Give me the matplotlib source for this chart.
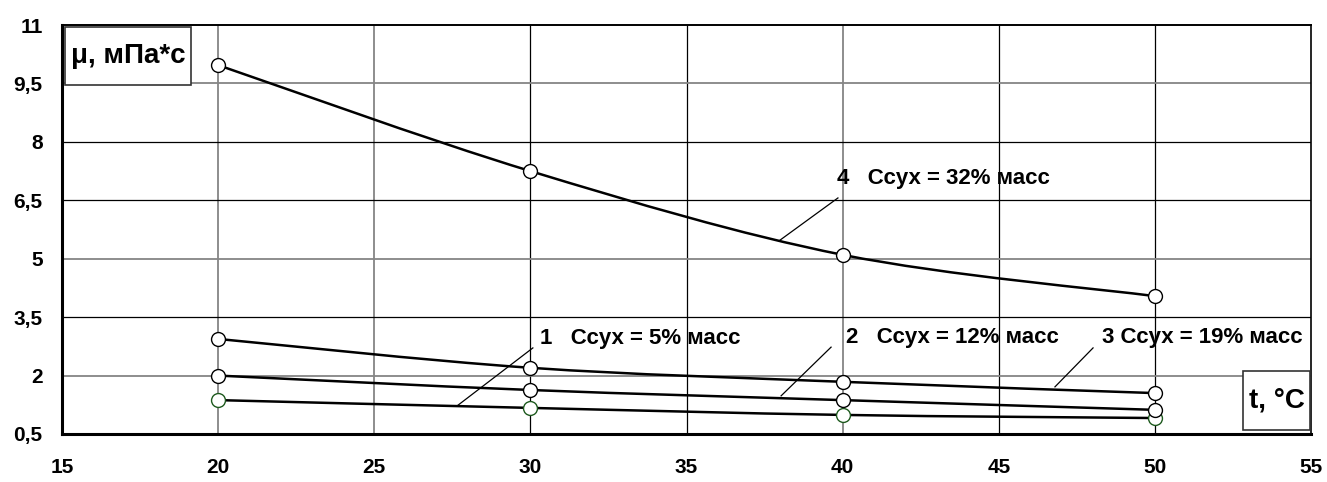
import matplotlib.pyplot as plt
from matplotlib.path import Path
from matplotlib.patches import PathPatch, Rectangle
from matplotlib.ticker import FixedLocator, FuncFormatter

# data
t = [20, 30, 40, 50]
mu_5 = [1.37, 1.17, 0.99, 0.91]
mu_12 = [2.00, 1.63, 1.37, 1.12]
mu_19 = [2.94, 2.20, 1.84, 1.55]
mu_32 = [9.97, 7.25, 5.10, 4.04]

labels = ["1   Ссух = 5% масс", "2   Ссух = 12% масс", "3 Ссух = 19% масс", "4   Ссух = 32% масс"]
label_xy = [(30.31, 2.94), (40.11, 2.97), (48.31, 2.97), (39.82, 7.07)]
leaders = [((30.08, 2.71), (27.65, 1.22)),
           ((39.63, 2.73), (38.03, 1.48)),
           ((48.02, 2.71), (46.80, 1.71)),
           ((39.85, 6.56), (38.0, 5.48))]

xticks = [15, 20, 25, 30, 35, 40, 45, 50, 55]
yticks = [0.5, 2, 3.5, 5, 6.5, 8, 9.5, 11]
gray_x = [20, 25, 40]
gray_y = [2, 5, 9.5]

FONT = ["Liberation Sans", "DejaVu Sans"]


def smooth_path(xs, ys):
    # Excel-like smoothed line: Catmull-Rom segments as cubic Bezier curves
    pts = list(zip(xs, ys))
    verts = [pts[0]]
    codes = [Path.MOVETO]
    n = len(pts)
    for i in range(n - 1):
        p0 = pts[i - 1] if i > 0 else pts[i]
        p1 = pts[i]
        p2 = pts[i + 1]
        p3 = pts[i + 2] if i + 2 < n else pts[i + 1]
        c1 = (p1[0] + (p2[0] - p0[0]) / 6, p1[1] + (p2[1] - p0[1]) / 6)
        c2 = (p2[0] - (p3[0] - p1[0]) / 6, p2[1] - (p3[1] - p1[1]) / 6)
        verts += [c1, c2, p2]
        codes += [Path.CURVE4] * 3
    return Path(verts, codes)


W, H = 1327, 482
fig = plt.figure(figsize=(W / 100, H / 100), dpi=100)
ax = fig.add_axes([62 / W, 1 - 434 / H, 1249 / W, 409 / H])
ax.set_xlim(15, 55)
ax.set_ylim(0.5, 11)

ax.xaxis.set_major_locator(FixedLocator(xticks))
ax.yaxis.set_major_locator(FixedLocator(yticks))
ax.yaxis.set_major_formatter(FuncFormatter(lambda v, p: f"{v:g}".replace(".", ",")))
ax.tick_params(length=0, labelsize=15)
ax.tick_params(axis="x", pad=17)
ax.tick_params(axis="y", pad=14)
for lab in ax.get_xticklabels() + ax.get_yticklabels():
    lab.set_fontweight("bold")
    lab.set_fontfamily(FONT)

# grid lines (some look grey, some black in the original)
for x in xticks[1:-1]:
    if x in gray_x:
        ax.axvline(x, color="#858585", lw=1.3, zorder=1)
    else:
        ax.axvline(x, color="black", lw=0.9, zorder=1)
for y in yticks[1:-1]:
    if y in gray_y:
        ax.axhline(y, color="#858585", lw=1.3, zorder=1)
    else:
        ax.axhline(y, color="black", lw=0.9, zorder=1)

ax.spines["top"].set_linewidth(1.4)
ax.spines["right"].set_linewidth(1.2)
for side in ["left", "bottom"]:
    ax.spines[side].set_linewidth(2.2)

series = [mu_5, mu_12, mu_19, mu_32]
edge = ["#1e5a1e", "black", "black", "black"]
for ys, ec in zip(series, edge):
    ax.add_patch(PathPatch(smooth_path(t, ys), fill=False, lw=1.8, color="black", zorder=3))
    ax.plot(t, ys, ls="none", marker="o", ms=10, mfc="white", mec=ec, mew=1, zorder=4)

for lab, (lx, ly), (p, q) in zip(labels, label_xy, leaders):
    ax.text(lx, ly, lab, fontsize=16, fontweight="bold", family=FONT, va="center", ha="left", zorder=5)
    ax.plot([p[0], q[0]], [p[1], q[1]], color="black", lw=0.9, zorder=5)

# axis title boxes, in pixel positions of the figure
for (x0, y0, x1, y1), txt in [((65, 27, 191, 85), "μ, мПа*с"), ((1243, 371, 1310, 430), "t, °C")]:
    fig.patches.append(Rectangle((x0 / W, 1 - y1 / H), (x1 - x0) / W, (y1 - y0) / H,
                                 transform=fig.transFigure, fc="white", ec="#333333", lw=1.2, zorder=6))
    fig.text((x0 + x1) / 2 / W, 1 - (y0 + y1) / 2 / H, txt, fontsize=20, fontweight="bold",
             family=FONT, ha="center", va="center", zorder=7)

fig.savefig("out.png", dpi=100)
